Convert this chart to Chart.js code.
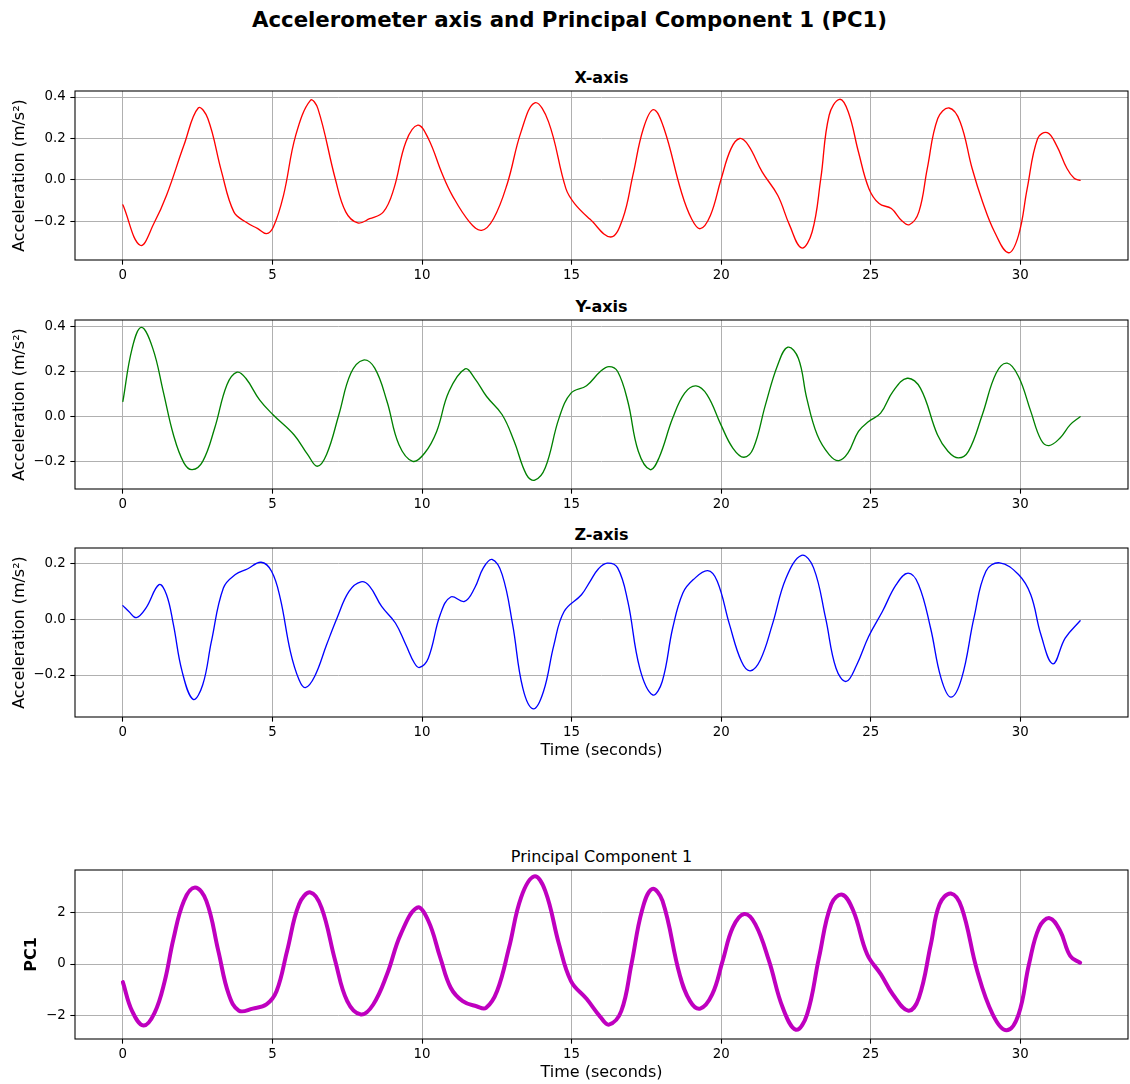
<!DOCTYPE html>
<html>
<head>
<meta charset="utf-8">
<script src="https://cdn.jsdelivr.net/npm/chart.js@4.4.1/dist/chart.umd.min.js"></script>
<style>
html,body{margin:0;padding:0;background:#fff;}
#fig{position:relative;width:1130px;height:1084px;background:#fff;overflow:hidden;font-family:'DejaVu Sans',sans-serif;color:#000;}
.ttl{position:absolute;white-space:nowrap;transform:translateX(-50%);line-height:1;}
canvas{position:absolute;left:0;}
</style>
</head>
<body>
<div id="fig">
  <div class="ttl" style="left:569.5px;top:9px;font-size:21.3px;font-weight:bold;">Accelerometer axis and Principal Component 1 (PC1)</div>
  <div class="ttl" style="left:601.5px;top:70px;font-size:16px;font-weight:bold;">X-axis</div>
  <div class="ttl" style="left:601.5px;top:299px;font-size:16px;font-weight:bold;">Y-axis</div>
  <div class="ttl" style="left:601.5px;top:527px;font-size:16px;font-weight:bold;">Z-axis</div>
  <div class="ttl" style="left:601.5px;top:849px;font-size:16px;">Principal Component 1</div>
  <canvas id="c1"></canvas>
  <canvas id="c2"></canvas>
  <canvas id="c3"></canvas>
  <canvas id="c4"></canvas>
</div>
<script>
// ---------- data ----------
const timeTicks = [0, 5, 10, 15, 20, 25, 30];
const accelTicks = [-0.2, 0.0, 0.2, 0.4];
const zTicks = [-0.2, 0.0, 0.2];
const pcTicks = [-2, 0, 2];

const xTime  = [0,0.58,1.06,1.46,2.04,2.52,2.84,3.30,3.71,4.11,4.51,4.80,5.03,5.37,5.78,6.27,6.52,7.10,7.45,7.85,8.25,8.71,9.06,9.46,9.86,10.21,10.67,11.01,11.59,11.99,12.39,12.85,13.31,13.77,14.23,14.81,15.10,15.62,16.31,16.71,17.05,17.40,17.74,18.09,18.67,19.01,19.30,19.64,19.99,20.33,20.62,20.91,21.37,21.89,22.29,22.69,23.04,23.33,23.61,23.96,24.25,24.59,24.94,25.28,25.69,26.03,26.29,26.61,26.89,27.24,27.62,27.99,28.39,28.74,29.14,29.60,29.94,30.23,30.58,30.90,31.21,31.56,31.80,32.00];
const xAccel = [-0.12,-0.315,-0.203,-0.074,0.167,0.347,0.296,0.039,-0.154,-0.203,-0.235,-0.259,-0.227,-0.074,0.216,0.384,0.344,0.006,-0.154,-0.207,-0.187,-0.154,-0.042,0.183,0.264,0.200,0.031,-0.074,-0.203,-0.243,-0.187,-0.018,0.232,0.372,0.280,-0.042,-0.114,-0.190,-0.275,-0.187,0.023,0.248,0.339,0.248,-0.058,-0.187,-0.235,-0.171,0.000,0.151,0.200,0.167,0.039,-0.074,-0.219,-0.328,-0.251,0.006,0.312,0.389,0.328,0.135,-0.042,-0.114,-0.138,-0.195,-0.216,-0.154,0.055,0.296,0.347,0.280,0.055,-0.106,-0.251,-0.351,-0.267,-0.042,0.200,0.228,0.167,0.055,0.008,-0.002];

const yTime  = [0,0.31,0.62,1.00,1.35,1.69,2.04,2.32,2.67,3.07,3.48,3.82,4.11,4.57,5.02,5.72,6.18,6.50,6.81,7.22,7.62,8.04,8.42,8.83,9.23,9.69,10.09,10.49,10.90,11.44,11.76,12.16,12.68,13.08,13.49,13.77,14.12,14.58,14.98,15.50,15.96,16.25,16.54,16.88,17.23,17.63,17.92,18.38,18.78,19.16,19.53,19.99,20.39,20.76,21.08,21.48,21.89,22.23,22.58,22.86,23.21,23.61,23.93,24.24,24.59,24.93,25.33,25.74,26.22,26.66,27.23,27.58,27.93,28.27,28.73,29.19,29.56,29.94,30.35,30.69,30.96,31.33,31.67,32.00];
const yAccel = [0.065,0.301,0.394,0.301,0.109,-0.083,-0.208,-0.238,-0.201,-0.053,0.139,0.195,0.168,0.072,0.006,-0.083,-0.171,-0.223,-0.171,0.006,0.190,0.249,0.213,0.065,-0.127,-0.201,-0.164,-0.068,0.109,0.210,0.168,0.087,0.006,-0.112,-0.260,-0.285,-0.230,-0.009,0.102,0.135,0.198,0.220,0.198,0.065,-0.156,-0.238,-0.186,-0.009,0.102,0.134,0.094,-0.038,-0.142,-0.183,-0.142,0.050,0.227,0.306,0.257,0.080,-0.083,-0.171,-0.198,-0.164,-0.068,-0.024,0.013,0.109,0.168,0.124,-0.083,-0.156,-0.186,-0.156,0.006,0.190,0.235,0.176,0.021,-0.105,-0.131,-0.097,-0.038,-0.003];

const zTime  = [0,0.20,0.45,0.77,1.21,1.46,1.69,1.98,2.35,2.67,2.96,3.36,3.76,4.16,4.62,4.97,5.26,5.60,5.89,6.10,6.41,6.81,7.16,7.56,7.96,8.25,8.65,9.11,9.46,9.75,9.92,10.21,10.61,10.96,11.42,11.76,12.05,12.34,12.68,13.03,13.37,13.72,14.06,14.41,14.75,15.33,15.62,15.90,16.19,16.54,16.88,17.28,17.71,18.03,18.38,18.72,19.07,19.55,19.87,20.28,20.68,20.97,21.31,21.71,22.17,22.69,23.09,23.49,23.84,24.18,24.53,24.93,25.39,25.85,26.25,26.60,27.00,27.35,27.68,28.04,28.45,28.85,29.31,29.94,30.35,30.69,31.09,31.50,32.00];
const zAccel = [0.048,0.027,0.005,0.039,0.123,0.087,-0.020,-0.187,-0.287,-0.235,-0.080,0.111,0.159,0.179,0.203,0.171,0.075,-0.116,-0.217,-0.245,-0.205,-0.092,0.004,0.099,0.133,0.117,0.045,-0.014,-0.092,-0.158,-0.173,-0.140,0.016,0.079,0.063,0.111,0.183,0.213,0.159,-0.020,-0.247,-0.321,-0.259,-0.092,0.027,0.087,0.135,0.180,0.200,0.183,0.063,-0.176,-0.271,-0.223,-0.032,0.093,0.141,0.173,0.135,-0.020,-0.152,-0.185,-0.146,-0.020,0.147,0.228,0.183,0.004,-0.176,-0.223,-0.164,-0.062,0.027,0.123,0.164,0.123,-0.032,-0.211,-0.279,-0.211,0.004,0.171,0.201,0.159,0.087,-0.056,-0.160,-0.068,-0.006];

const pcTime   = [0,0.31,0.69,1.06,1.40,1.69,2.04,2.41,2.79,3.19,3.54,3.88,4.34,4.80,5.14,5.49,5.89,6.27,6.64,7.10,7.50,7.96,8.37,8.83,9.29,9.84,10.21,10.61,10.96,11.36,11.82,12.14,12.51,12.91,13.31,13.75,14.12,14.58,14.98,15.50,15.96,16.25,16.66,17.00,17.35,17.69,18.04,18.61,18.96,19.30,19.70,20.05,20.39,20.77,21.14,21.60,22.06,22.50,22.87,23.27,23.68,24.05,24.42,24.88,25.34,25.74,26.26,26.61,27.01,27.30,27.68,28.04,28.56,29.08,29.54,29.94,30.29,30.63,30.98,31.33,31.67,32.00];
const pcValues = [-0.70,-1.83,-2.39,-1.90,-0.66,0.97,2.45,2.97,2.45,0.51,-1.18,-1.81,-1.73,-1.57,-1.05,0.51,2.32,2.78,2.19,0.12,-1.44,-1.96,-1.57,-0.40,1.16,2.19,1.68,0.25,-0.92,-1.44,-1.64,-1.70,-1.05,0.64,2.58,3.40,2.84,0.77,-0.66,-1.35,-2.05,-2.35,-1.83,-0.01,2.06,2.91,2.45,-0.40,-1.44,-1.73,-1.18,0.12,1.42,1.94,1.55,0.12,-1.70,-2.55,-1.96,0.25,2.32,2.69,2.06,0.38,-0.40,-1.18,-1.81,-1.31,0.77,2.32,2.74,2.19,-0.27,-1.96,-2.57,-1.96,-0.01,1.42,1.78,1.29,0.31,0.05];

// ---------- drawing ----------
const FONT = "'DejaVu Sans', sans-serif";
Chart.defaults.font.family = FONT;
Chart.defaults.font.size = 13.33;
Chart.defaults.color = '#000';

const framePlugin = {
  id: 'frame',
  afterDraw(chart) {
    const {ctx, chartArea: a} = chart;
    ctx.save();
    ctx.strokeStyle = '#000';
    ctx.lineWidth = 1.07;
    ctx.strokeRect(a.left, a.top, a.right - a.left, a.bottom - a.top);
    ctx.restore();
  }
};
const fmt = (v, d) => v.toFixed(d).replace('-', '\u2212');

function makePanel(id, plotTop, times, vals, color, lw, yMin, yMax, yTicks, dec, yTitle, yBold, xTitle) {
  const padTop = 18, plotH = 169, hx = xTitle ? 48 : 26;
  const cv = document.getElementById(id);
  cv.width = 1130; cv.height = padTop + plotH + hx;
  cv.style.width = '1130px'; cv.style.height = cv.height + 'px';
  cv.style.top = (plotTop - padTop) + 'px';
  new Chart(cv, {
    type: 'line',
    data: {
      datasets: [{
        data: times.map((t, i) => ({x: t, y: vals[i]})),
        borderColor: color,
        borderWidth: lw,
        pointRadius: 0,
        fill: false,
        tension: 0.4,
        borderJoinStyle: 'round',
        borderCapStyle: 'round'
      }]
    },
    options: {
      responsive: false, animation: false, devicePixelRatio: 1,
      layout: {padding: {left: 0, right: 2, top: padTop, bottom: 0}},
      plugins: {legend: {display: false}, tooltip: {enabled: false}, title: {display: false}},
      scales: {
        x: {
          type: 'linear', min: -1.6, max: 33.6,
          afterBuildTicks: s => { s.ticks = timeTicks.map(v => ({value: v})); },
          afterFit: s => { s.height = hx; },
          ticks: {color: '#000', font: {family: FONT, size: 13.33}, padding: 2.5, maxRotation: 0, autoSkip: false,
                  callback: v => String(v)},
          grid: {color: '#b0b0b0', lineWidth: 1, tickColor: '#000', tickLength: 4.67, tickWidth: 1.07},
          border: {display: false},
          title: {display: !!xTitle, text: xTitle || '', color: '#000', font: {family: FONT, size: 16},
                  padding: {top: 0, bottom: 4.4}}
        },
        y: {
          type: 'linear', min: yMin, max: yMax,
          afterBuildTicks: s => { s.ticks = yTicks.map(v => ({value: v})); },
          afterFit: s => { s.width = 75; },
          ticks: {color: '#000', font: {family: FONT, size: 13.33}, padding: 4.67, autoSkip: false,
                  callback: v => fmt(v, dec)},
          grid: {color: '#b0b0b0', lineWidth: 1, tickColor: '#000', tickLength: 4.67, tickWidth: 1.07},
          border: {display: false},
          title: {display: true, text: yTitle, color: '#000',
                  font: {family: FONT, size: 16, weight: yBold ? 'bold' : 'normal'},
                  padding: {top: yBold ? 22.4 : 10.4, bottom: 0}}
        }
      }
    },
    plugins: [framePlugin]
  });
}

makePanel('c1', 91, xTime, xAccel, '#ff0000', 1.33, -0.386, 0.429, accelTicks, 1, 'Acceleration (m/s\u00b2)', false, null);
makePanel('c2', 320, yTime, yAccel, '#008000', 1.33, -0.324, 0.427, accelTicks, 1, 'Acceleration (m/s\u00b2)', false, null);
makePanel('c3', 548, zTime, zAccel, '#0000ff', 1.33, -0.35, 0.254, zTicks, 1, 'Acceleration (m/s\u00b2)', false, 'Time (seconds)');
makePanel('c4', 870, pcTime, pcValues, '#bf00bf', 4.0, -2.91, 3.65, pcTicks, 0, 'PC1', true, 'Time (seconds)');
</script>
</body>
</html>
